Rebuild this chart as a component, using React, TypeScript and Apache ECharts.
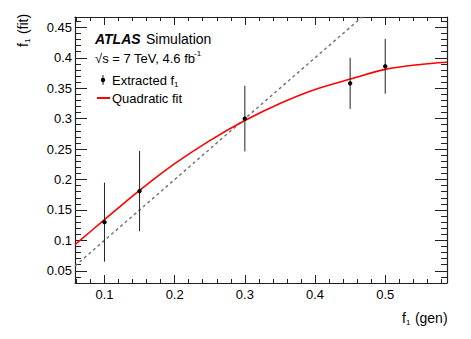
import React, { useEffect, useRef } from "react";
import * as echarts from "echarts";

const xMajor = [0.1, 0.2, 0.3, 0.4, 0.5];
const yMajor = [0.05, 0.1, 0.15, 0.2, 0.25, 0.3, 0.35, 0.4, 0.45];
const xRange = [0.058, 0.588];
const yRange = [0.03, 0.467];

const pointX = [0.1, 0.15, 0.3, 0.45, 0.5];
const pointY = [0.13, 0.181, 0.3, 0.358, 0.386];
const pointErr = [0.065, 0.066, 0.054, 0.042, 0.045];

const fitX = [0.058, 0.1, 0.15, 0.2, 0.25, 0.3, 0.35, 0.4, 0.45, 0.5, 0.55, 0.588];
const fitY = [0.093, 0.134, 0.182, 0.226, 0.264, 0.297, 0.325, 0.348, 0.365, 0.381, 0.389, 0.3926];

const diagX = [0.058, 0.467];
const diagY = [0.058, 0.467];

const FONT = "'Liberation Sans', Arial, Helvetica, sans-serif";

function minorValues(lo: number, hi: number, step: number, majors: number[]) {
  const out: number[] = [];
  const n = Math.round((hi - lo) / step);
  for (let i = 0; i <= n; i++) {
    const v = Math.round((lo + i * step) * 1000) / 1000;
    if (!majors.some((m) => Math.abs(m - v) < 1e-6)) out.push(v);
  }
  return out;
}

export default function App() {
  const ref = useRef<HTMLDivElement>(null);
  useEffect(() => {
    if (!ref.current) return;
    const chart = echarts.init(ref.current, null, { renderer: "svg" });
    const xMinor = minorValues(0.06, 0.58, 0.02, xMajor);
    const yMinor = minorValues(0.04, 0.46, 0.01, yMajor);
    const lineC = "#222";
    const baseX = {
      type: "value" as const,
      min: xRange[0],
      max: xRange[1],
      splitLine: { show: false },
    };
    const baseY = {
      type: "value" as const,
      min: yRange[0],
      max: yRange[1],
      splitLine: { show: false },
    };
    const xAxes = [
      {
        ...baseX,
        position: "bottom",
        axisLine: { show: true, onZero: false, lineStyle: { color: lineC, width: 1.2 } },
        axisTick: { show: true, inside: true, length: 8, customValues: xMajor, lineStyle: { color: lineC } },
        axisLabel: {
          show: true,
          customValues: xMajor,
          margin: 5,
          color: "#000",
          fontSize: 13,
          fontFamily: FONT,
          formatter: (v: number) => String(Math.round(v * 100) / 100),
        },
      },
      {
        ...baseX,
        position: "bottom",
        axisLine: { show: false, onZero: false },
        axisTick: { show: true, inside: true, length: 4, customValues: xMinor, lineStyle: { color: lineC } },
        axisLabel: { show: false },
      },
      {
        ...baseX,
        position: "top",
        axisLine: { show: true, onZero: false, lineStyle: { color: lineC, width: 1.2 } },
        axisTick: { show: true, inside: true, length: 8, customValues: xMajor, lineStyle: { color: lineC } },
        axisLabel: { show: false },
      },
      {
        ...baseX,
        position: "top",
        axisLine: { show: false, onZero: false },
        axisTick: { show: true, inside: true, length: 4, customValues: xMinor, lineStyle: { color: lineC } },
        axisLabel: { show: false },
      },
    ];
    const yAxes = [
      {
        ...baseY,
        position: "left",
        axisLine: { show: true, onZero: false, lineStyle: { color: lineC, width: 1.2 } },
        axisTick: { show: true, inside: true, length: 12, customValues: yMajor, lineStyle: { color: lineC } },
        axisLabel: {
          show: true,
          customValues: yMajor,
          margin: 3,
          color: "#000",
          fontSize: 13,
          fontFamily: FONT,
          formatter: (v: number) => String(Math.round(v * 100) / 100),
        },
      },
      {
        ...baseY,
        position: "left",
        axisLine: { show: false, onZero: false },
        axisTick: { show: true, inside: true, length: 6, customValues: yMinor, lineStyle: { color: lineC } },
        axisLabel: { show: false },
      },
      {
        ...baseY,
        position: "right",
        axisLine: { show: true, onZero: false, lineStyle: { color: lineC, width: 1.2 } },
        axisTick: { show: true, inside: true, length: 12, customValues: yMajor, lineStyle: { color: lineC } },
        axisLabel: { show: false },
      },
      {
        ...baseY,
        position: "right",
        axisLine: { show: false, onZero: false },
        axisTick: { show: true, inside: true, length: 6, customValues: yMinor, lineStyle: { color: lineC } },
        axisLabel: { show: false },
      },
    ];

    const txt = (x: number, y: number, text: string, size = 13, extra: any = {}) => ({
      type: "text",
      x,
      y,
      style: {
        text,
        fontSize: size,
        fontFamily: FONT,
        fill: "#000",
        align: "left",
        verticalAlign: "middle",
        ...extra,
      },
    });

    const option: any = {
      animation: false,
      grid: { left: 75, right: 24, top: 17, bottom: 56, containLabel: false, outerBoundsMode: "none" },
      xAxis: xAxes,
      yAxis: yAxes,
      series: [
        {
          type: "line",
          data: diagX.map((x, i) => [x, diagY[i]]),
          symbol: "none",
          lineStyle: { color: "#777", width: 1.5, type: [3, 3] },
          clip: true,
          silent: true,
          z: 2,
        },
        {
          type: "line",
          data: fitX.map((x, i) => [x, fitY[i]]),
          symbol: "none",
          smooth: 0.3,
          lineStyle: { color: "#ff0000", width: 1.6 },
          clip: true,
          silent: true,
          z: 3,
        },
        {
          type: "custom",
          data: pointX.map((x, i) => [x, pointY[i], pointErr[i]]),
          encode: { x: 0, y: 1 },
          z: 4,
          renderItem: (params: any, api: any) => {
            const x = api.value(0);
            const y = api.value(1);
            const e = api.value(2);
            const p = api.coord([x, y]);
            const t = api.coord([x, y + e]);
            const b = api.coord([x, y - e]);
            return {
              type: "group",
              children: [
                {
                  type: "line",
                  shape: { x1: p[0], y1: t[1], x2: p[0], y2: b[1] },
                  style: { stroke: "#222", lineWidth: 1 },
                },
                {
                  type: "circle",
                  shape: { cx: p[0], cy: p[1], r: 2.2 },
                  style: { fill: "#000" },
                },
              ],
            };
          },
        },
      ],
      graphic: [
        txt(95, 39, "ATLAS", 14, { fontWeight: "bold", fontStyle: "italic" }),
        txt(146, 39, "Simulation", 14),
        txt(95, 58, "√s = 7 TeV, 4.6 fb", 13),
        txt(194, 53, "-1", 8),
        {
          type: "line",
          shape: { x1: 103, y1: 75, x2: 103, y2: 85 },
          style: { stroke: "#222", lineWidth: 1 },
        },
        { type: "circle", shape: { cx: 103, cy: 80, r: 2.2 }, style: { fill: "#000" } },
        txt(112, 80, "Extracted f", 13),
        txt(174, 84, "1", 8),
        {
          type: "line",
          shape: { x1: 97, y1: 98, x2: 110, y2: 98 },
          style: { stroke: "#ff0000", lineWidth: 2 },
        },
        txt(112, 98, "Quadratic fit", 13),
        {
          type: "group",
          x: 23,
          y: 47,
          rotation: Math.PI / 2,
          children: [
            txt(0, 0, "f", 14),
            txt(4, 4, "1", 8),
            txt(9, 0, " (fit)", 14),
          ],
        },
        txt(402, 318, "f", 14),
        txt(406, 322, "1", 8),
        txt(411, 318, " (gen)", 14),
      ],
    };
    chart.setOption(option);
    return () => chart.dispose();
  }, []);
  return (
    <div
      ref={ref}
      style={{ position: "fixed", left: 0, top: 0, width: 471, height: 339, background: "#fff" }}
    />
  );
}
